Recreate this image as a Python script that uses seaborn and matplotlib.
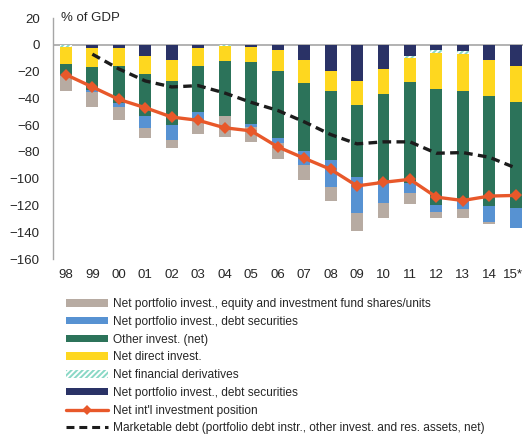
import numpy as np
import pandas as pd
import matplotlib
matplotlib.use("Agg")
import matplotlib.pyplot as plt
import matplotlib.transforms as mtransforms
from matplotlib.patches import Patch
from matplotlib.lines import Line2D
import seaborn as sns


# data (% of GDP), segments stacked downward from zero

years = ["98", "99", "00", "01", "02", "03", "04", "05", "06", "07", "08",
         "09", "10", "11", "12", "13", "14", "15*"]

pf_debt_neg = [0, -2.5, -2.7, -8.7, -11.1, -2.7, -0.3, -1.8, -4.0, -11.1, -19.8,
               -26.7, -18.0, -8.7, -4.0, -4.5, -11.4, -15.6]
derivatives = [-1.3, 0, 0, 0, 0, 0, -0.3, 0, 0, 0, 0,
               0, 0, -1.0, -2.2, -2.5, 0, 0]
direct_inv = [-13.1, -14.3, -13.3, -13.1, -16.1, -13.3, -11.8, -10.8, -15.8, -17.3, -14.9,
              -18.6, -18.6, -18.3, -26.7, -27.2, -27.2, -27.2]
other_inv = [-7.9, -16.6, -27.5, -31.7, -32.4, -34.2, -41.1, -46.3, -49.8, -50.8, -51.7,
             -53.2, -66.8, -75.4, -86.8, -82.5, -82.1, -78.9]
pf_debt_pos = [-1.0, -1.7, -3.0, -8.4, -11.2, -5.7, 0, -2.5, -4.1, -10.6, -19.6,
               -27.2, -14.4, -7.0, -5.2, -6.2, -11.6, -15.5]
pf_equity = [-11.3, -11.1, -9.5, -7.4, -6.6, -10.4, -15.3, -11.1, -11.9, -11.2, -11.0,
             -13.6, -11.6, -8.4, -4.2, -6.2, -1.5, 0]

niip = [-22.3, -31.5, -40.8, -47.0, -54.0, -56.4, -62.0, -64.3, -76.2, -84.7, -93.0,
        -105.4, -102.7, -100.5, -113.8, -116.3, -113.0, -112.5]
marketable_debt = [np.nan, -7, -18, -27, -31.5, -30.5, -36, -43, -49, -57.5, -67,
                   -74, -72.5, -72.5, -81, -80.5, -84, -92]

labels = [
    "Net portfolio invest., equity and investment fund shares/units",
    "Net portfolio invest., debt securities",
    "Other invest. (net)",
    "Net direct invest.",
    "Net financial derivatives",
    "Net portfolio invest., debt securities",
    "Net int'l investment position",
    "Marketable debt (portfolio debt instr., other invest. and res. assets, net)",
]

c_tan = "#b7aba2"
c_blue = "#5792d2"
c_green = "#2c735a"
c_yellow = "#fed71f"
c_teal = "#8ad8c6"
c_navy = "#2a3266"
c_red = "#e8582a"
c_dash = "#1c1c1c"


# setup

sns.set_style("white")
plt.rcParams["font.family"] = ["Liberation Sans", "DejaVu Sans"]
plt.rcParams["hatch.color"] = "white"
plt.rcParams["hatch.linewidth"] = 1.4

fig = plt.figure(figsize=(5.24, 4.34), dpi=100)
ax = fig.add_axes([0.101, 0.4032, 0.897, 0.5553])


# stacked bars: draw cumulative depths, deepest first

segments = [pf_debt_neg, derivatives, direct_inv, other_inv, pf_debt_pos, pf_equity]
seg_colors = [c_navy, c_teal, c_yellow, c_green, c_blue, c_tan]
cum = np.cumsum(np.array(segments), axis=0)

for i in range(len(segments) - 1, -1, -1):
    n_before = len(ax.patches)
    sns.barplot(x=years, y=cum[i], color=seg_colors[i], saturation=1,
                width=0.45, linewidth=0, ax=ax, order=years)
    if seg_colors[i] == c_teal:
        for p in ax.patches[n_before:]:
            p.set_hatch("//////")
            p.set_edgecolor("white")
            p.set_linewidth(0)

ax.axhline(0, color="#a6a6a6", lw=1.2, zorder=0.5)

x = np.arange(len(years))
sns.lineplot(x=x, y=marketable_debt, color=c_dash, lw=2.4, ax=ax,
             linestyle=(0, (2.6, 1.6)))
sns.lineplot(x=x, y=niip, color=c_red, lw=2.4, marker="D", markersize=6,
             markeredgewidth=0, ax=ax)


# axes styling

ax.set_xlim(-0.49, 17.27)
ax.set_ylim(-160, 20)
ax.set_yticks(np.arange(-160, 21, 20))
ax.set_xticks(x)
ax.set_xticklabels(years)
ax.set_xlabel("")
ax.set_ylabel("")
for s in ["top", "right", "bottom"]:
    ax.spines[s].set_visible(False)
ax.spines["left"].set_color("#a6a6a6")
ax.spines["left"].set_linewidth(1)
ax.tick_params(axis="y", length=0, pad=9.5, labelsize=9.5, labelcolor="#262626")
ax.tick_params(axis="x", length=0, pad=7, labelsize=9.5, labelcolor="#262626")

# keep the last label ("15*") inside the canvas
last = ax.get_xticklabels()[-1]
last.set_transform(last.get_transform() +
                   mtransforms.ScaledTranslation(-3 / 100, 0, fig.dpi_scale_trans))

ax.text(0.017, 1.0, "% of GDP", transform=ax.transAxes, va="center",
        ha="left", fontsize=9.5, color="#262626")


# legend

handles = [
    Patch(facecolor=c_tan, lw=0),
    Patch(facecolor=c_blue, lw=0),
    Patch(facecolor=c_green, lw=0),
    Patch(facecolor=c_yellow, lw=0),
    Patch(facecolor=c_teal, edgecolor="white", hatch="//////", lw=0),
    Patch(facecolor=c_navy, lw=0),
    Line2D([0], [0], color=c_red, lw=2.4, marker="D", markersize=5, markeredgewidth=0),
    Line2D([0], [0], color=c_dash, lw=2.2, linestyle=(0, (2.6, 1.6))),
]

fig.legend(handles, labels, loc="upper left", bbox_to_anchor=(0.126, 0.313),
           frameon=False, fontsize=8.6, handlelength=3.5, handleheight=0.6,
           handletextpad=0.45, labelspacing=0.48, borderaxespad=0, borderpad=0,
           labelcolor="#262626")

fig.savefig("out.png", dpi=100)
